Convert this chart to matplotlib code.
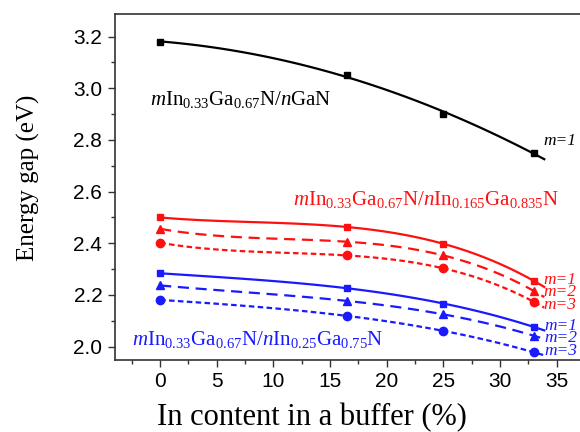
import numpy as np
import matplotlib
matplotlib.use('Agg')
import matplotlib.pyplot as plt
from matplotlib.ticker import MultipleLocator

plt.rcParams['font.family'] = 'Liberation Serif'
plt.rcParams['mathtext.fontset'] = 'custom'
plt.rcParams['mathtext.rm'] = 'Liberation Serif'
plt.rcParams['mathtext.it'] = 'Liberation Serif:italic'

# In content in buffer (%)
x = [0, 16.5, 25, 33]
# energy gaps (eV)
gan = [3.18, 3.05, 2.90, 2.75]
red_m1 = [2.50, 2.463, 2.398, 2.254]
red_m2 = [2.456, 2.406, 2.353, 2.215]
red_m3 = [2.402, 2.353, 2.303, 2.173]
blue_m1 = [2.284, 2.226, 2.167, 2.076]
blue_m2 = [2.237, 2.177, 2.125, 2.042]
blue_m3 = [2.181, 2.119, 2.061, 1.978]

red = '#ff1010'
blue = '#1a1aff'

fig = plt.figure(figsize=(5.8, 4.32), dpi=100)
ax = fig.add_axes([0.198, 0.167, 0.8205, 0.801])

xf = np.linspace(0, 33.9, 100)

def fitline(y, deg, color, ls, marker, ms):
    p = np.polyfit(x, y, deg)
    ax.plot(xf, np.polyval(p, xf), color=color, ls=ls, lw=1.6)
    ax.plot(x, y, ls='none', marker=marker, color=color, ms=ms)

fitline(gan, 2, 'black', '-', 's', 5)
fitline(red_m1, 3, red, '-', 's', 5)
fitline(red_m2, 3, red, (0, (5, 3)), '^', 6)
fitline(red_m3, 3, red, (0, (2.5, 1.5)), 'o', 6)
fitline(blue_m1, 3, blue, '-', 's', 5)
fitline(blue_m2, 3, blue, (0, (5, 3)), '^', 6)
fitline(blue_m3, 3, blue, (0, (2.5, 1.5)), 'o', 6)

ax.text(-0.9, 2.956, r'$m$In$_{0.33}$Ga$_{0.67}$N/$n$GaN', fontsize=15,
        ha='left', va='center', color='black')
ax.text(11.7, 2.569, r'$m$In$_{0.33}$Ga$_{0.67}$N/$n$In$_{0.165}$Ga$_{0.835}$N',
        fontsize=15, ha='left', va='center', color=red)
ax.text(-2.5, 2.029, r'$m$In$_{0.33}$Ga$_{0.67}$N/$n$In$_{0.25}$Ga$_{0.75}$N',
        fontsize=15, ha='left', va='center', color=blue)

lab = dict(fontsize=12.5, style='italic', ha='left', va='center')
ax.text(33.8, 2.795, 'm=1', color='black', **lab)
ax.text(33.8, 2.257, 'm=1', color=red, **lab)
ax.text(33.8, 2.210, 'm=2', color=red, **lab)
ax.text(33.8, 2.162, 'm=3', color=red, **lab)
ax.text(33.9, 2.079, 'm=1', color=blue, **lab)
ax.text(33.9, 2.033, 'm=2', color=blue, **lab)
ax.text(33.9, 1.985, 'm=3', color=blue, **lab)

ax.set_xlim(-4, 38)
ax.set_ylim(1.949, 3.288)
ax.xaxis.set_major_locator(MultipleLocator(5))
ax.xaxis.set_minor_locator(MultipleLocator(2.5))
ax.yaxis.set_major_locator(MultipleLocator(0.2))
ax.yaxis.set_minor_locator(MultipleLocator(0.1))
ax.tick_params(which='major', length=5, width=1, direction='out', labelsize=15,
               color='#333333', pad=4)
ax.tick_params(which='minor', length=3, width=1, direction='out', color='#333333')
for lbl in ax.get_xticklabels() + ax.get_yticklabels():
    lbl.set_family('Liberation Sans')
for s in ax.spines.values():
    s.set_color('#333333')
    s.set_linewidth(1.2)
ax.spines['right'].set_visible(False)

ax.set_xlabel('In content in a buffer (%)', fontsize=22)
ax.set_ylabel('Energy gap (eV)', fontsize=18)
ax.xaxis.set_label_coords(0.415, -0.125)
ax.yaxis.set_label_coords(-0.157, 0.527)

fig.savefig('out.png', dpi=100)
